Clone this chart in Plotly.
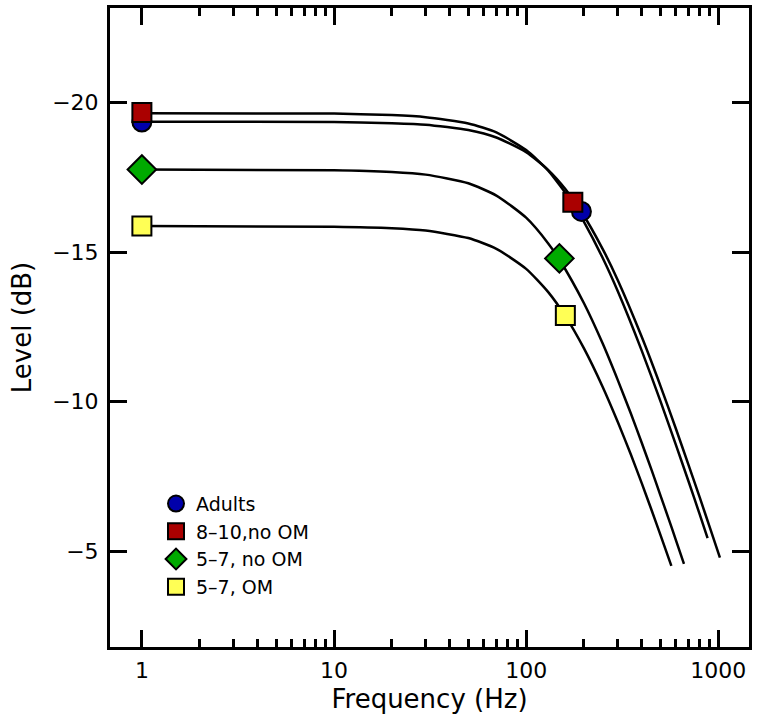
import plotly.graph_objects as go

# Data
freq_adults = [1, 10, 20, 30, 50, 70, 100, 130, 160, 194, 250, 300, 400, 500, 600, 700, 800, 900, 1020]
level_adults = [-19.36, -19.35, -19.31, -19.26, -19.08, -18.83, -18.34, -17.75, -17.11, -16.35, -15.11, -14.06,
                -12.16, -10.53, -9.12, -7.89, -6.81, -5.83, -4.79]

freq_810 = [1, 10, 20, 30, 50, 70, 100, 130, 175, 200, 250, 300, 400, 500, 600, 700, 800, 880]
level_810 = [-19.64, -19.63, -19.58, -19.51, -19.30, -19.00, -18.41, -17.73, -16.63, -16.01, -14.81, -13.69,
             -11.70, -10.02, -8.58, -7.34, -6.24, -5.44]

freq_57 = [1, 10, 20, 30, 50, 70, 100, 130, 150, 200, 250, 300, 350, 400, 450, 500, 550, 600, 663]
level_57 = [-17.76, -17.74, -17.68, -17.59, -17.30, -16.89, -16.15, -15.30, -14.72, -13.29, -11.95, -10.72,
            -9.62, -8.62, -7.71, -6.87, -6.11, -5.40, -4.58]

freq_57om = [1, 10, 20, 30, 50, 70, 100, 130, 160, 200, 250, 300, 350, 400, 450, 500, 570]
level_57om = [-15.87, -15.85, -15.80, -15.72, -15.47, -15.11, -14.44, -13.67, -12.86, -11.78, -10.50, -9.32,
              -8.25, -7.27, -6.37, -5.55, -4.51]

# Measured points
pt_freq_adults = [1, 194]
pt_level_adults = [-19.35, -16.36]
pt_freq_810 = [1, 175]
pt_level_810 = [-19.67, -16.67]
pt_freq_57 = [1, 149]
pt_level_57 = [-17.76, -14.79]
pt_freq_57om = [1, 160]
pt_level_57om = [-15.87, -12.88]

names = ["Adults", "8–10,no OM", "5–7, no OM", "5–7, OM"]

fig = go.Figure()

for fx, ly in [(freq_adults, level_adults), (freq_810, level_810), (freq_57, level_57), (freq_57om, level_57om)]:
    fig.add_trace(go.Scatter(x=fx, y=ly, mode="lines", line=dict(color="black", width=2.5, shape="spline", smoothing=0.6),
                             showlegend=False, hoverinfo="skip"))

marker_specs = [
    (pt_freq_adults, pt_level_adults, names[0], "circle", "#0000AA"),
    (pt_freq_810, pt_level_810, names[1], "square", "#AA0000"),
    (pt_freq_57, pt_level_57, names[2], "diamond", "#00AA00"),
    (pt_freq_57om, pt_level_57om, names[3], "square", "#FFFF55"),
]
for fx, ly, nm, sym, col in marker_specs:
    fig.add_trace(go.Scatter(x=fx, y=ly, mode="markers", name=nm,
                             marker=dict(symbol=sym, size=19 if sym != "diamond" else 22, color=col,
                                         line=dict(color="black", width=2))))

font_family = "DejaVu Sans"
fig.update_layout(
    width=757, height=718,
    margin=dict(l=110, r=6, t=5, b=71),
    plot_bgcolor="white", paper_bgcolor="white",
    font=dict(family=font_family, size=22, color="black"),
    legend=dict(x=0.072, y=0.254, xanchor="left", yanchor="top", bgcolor="rgba(0,0,0,0)",
                font=dict(size=19), tracegroupgap=0, itemwidth=30),
    showlegend=True,
)
fig.update_xaxes(
    type="log", range=[-0.166, 3.160],
    showline=True, linewidth=3, linecolor="black", mirror="allticks",
    ticks="inside", ticklen=17, tickwidth=3, tickcolor="black",
    tickvals=[1, 10, 100, 1000], ticktext=["1", "10", "100", "1000"],
    minor=dict(ticks="inside", ticklen=8, tickwidth=3, tickcolor="black",
               tickvals=[2, 3, 4, 5, 6, 7, 8, 9, 20, 30, 40, 50, 60, 70, 80, 90, 200, 300, 400, 500, 600, 700, 800, 900]),
    showgrid=False, zeroline=False,
    title=dict(text="Frequency (Hz)", standoff=8),
    ticklabelstandoff=2,
)
fig.update_yaxes(
    range=[-1.80, -23.16],
    showline=True, linewidth=3, linecolor="black", mirror="allticks",
    ticks="inside", ticklen=17, tickwidth=3, tickcolor="black",
    tickvals=[-20, -15, -10, -5],
    showgrid=False, zeroline=False,
    title=dict(text="Level (dB)", standoff=14),
    ticklabelstandoff=4,
)

fig.write_html("out.html")
